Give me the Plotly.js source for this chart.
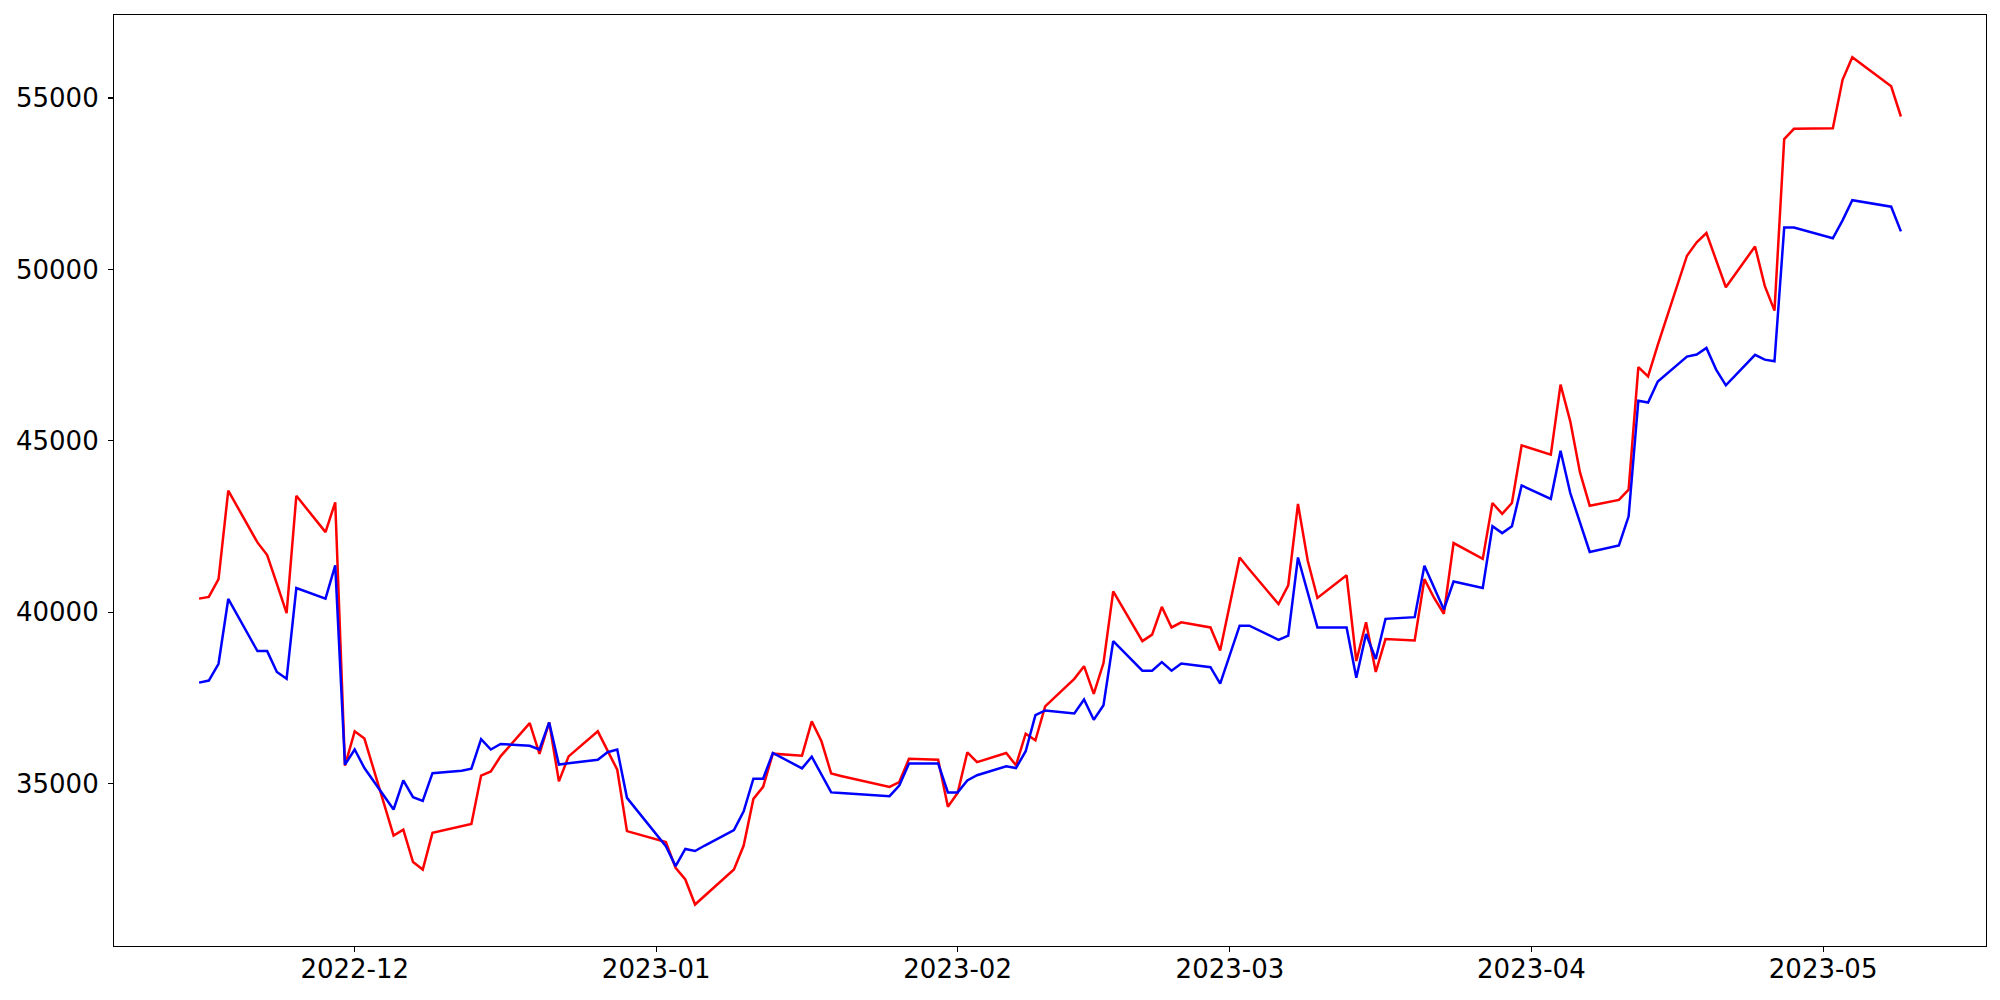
<!DOCTYPE html>
<html>
<head>
<meta charset="utf-8">
<script src="https://cdn.plot.ly/plotly-3.0.1.min.js"></script>
<style>html,body{margin:0;padding:0;background:#fff;}#chart{width:2000px;height:1000px;}</style>
</head>
<body>
<div id="chart"></div>
<script>
const dates = [
"2022-11-15","2022-11-16","2022-11-17","2022-11-18","2022-11-21","2022-11-22","2022-11-23","2022-11-24","2022-11-25","2022-11-28","2022-11-29","2022-11-30",
"2022-12-01","2022-12-02","2022-12-05","2022-12-06","2022-12-07","2022-12-08","2022-12-09","2022-12-12","2022-12-13","2022-12-14","2022-12-15","2022-12-16","2022-12-19","2022-12-20","2022-12-21","2022-12-22","2022-12-23","2022-12-26","2022-12-27","2022-12-28","2022-12-29",
"2023-01-02","2023-01-03","2023-01-04","2023-01-05","2023-01-06","2023-01-09","2023-01-10","2023-01-11","2023-01-12","2023-01-13","2023-01-16","2023-01-17","2023-01-18","2023-01-19","2023-01-20","2023-01-25","2023-01-26","2023-01-27","2023-01-30","2023-01-31",
"2023-02-01","2023-02-02","2023-02-03","2023-02-06","2023-02-07","2023-02-08","2023-02-09","2023-02-10","2023-02-13","2023-02-14","2023-02-15","2023-02-16","2023-02-17","2023-02-20","2023-02-21","2023-02-22","2023-02-23","2023-02-24","2023-02-27","2023-02-28",
"2023-03-02","2023-03-03","2023-03-06","2023-03-07","2023-03-08","2023-03-09","2023-03-10","2023-03-13","2023-03-14","2023-03-15","2023-03-16","2023-03-17","2023-03-20","2023-03-21","2023-03-22","2023-03-23","2023-03-24","2023-03-27","2023-03-28","2023-03-29","2023-03-30","2023-03-31",
"2023-04-03","2023-04-04","2023-04-05","2023-04-06","2023-04-07","2023-04-10","2023-04-11","2023-04-12","2023-04-13","2023-04-14","2023-04-17","2023-04-18","2023-04-19","2023-04-20","2023-04-21","2023-04-24","2023-04-25","2023-04-26","2023-04-27","2023-04-28",
"2023-05-02","2023-05-03","2023-05-04","2023-05-08","2023-05-09"
];

const redValues = [
40400,40450,40970,43550,42040,41670,40830,39980,43400,42340,43210,35530,
36530,36320,33490,33660,32720,32500,33570,33770,33830,35240,35360,35800,36770,35870,36790,35070,35800,36530,35960,35410,33620,
33300,32550,32210,31480,31740,32500,33200,34560,34910,35880,35820,36820,36240,35300,35230,34910,35050,35730,35700,34330,
34730,35920,35630,35900,35540,36460,36270,37260,38060,38430,37620,38520,40610,39160,39350,40160,39560,39710,39560,38890,
41600,41250,40240,40790,43160,41510,40420,41080,38580,39710,38260,39220,39180,40970,40420,39960,42020,41560,43190,42870,43190,44870,
44600,46640,45570,44080,43110,43280,43580,47150,46880,47800,50400,50790,51060,50270,49480,50670,49520,48800,53800,54100,
54120,55530,56190,55340,54460
];

const blueValues = [
37950,38010,38500,40390,38870,38870,38260,38060,40710,40400,41370,35560,
36000,35460,34250,35100,34610,34500,35310,35380,35440,36300,36000,36160,36110,36000,36790,35560,35600,35700,35920,36000,34590,
33180,32600,33100,33040,33200,33650,34200,35150,35150,35900,35450,35790,35280,34750,34730,34640,34950,35590,35590,34750,
34750,35100,35250,35510,35460,35950,37000,37140,37050,37460,36870,37290,39160,38300,38300,38550,38300,38510,38400,37920,
39610,39610,39200,39320,41600,40600,39560,39560,38090,39370,38640,39810,39860,41360,40720,40080,40900,40710,42510,42310,42510,43700,
43310,44710,43480,42620,41760,41950,42800,46170,46120,46730,47460,47520,47710,47080,46620,47510,47370,47320,51220,51220,
50910,51430,52020,51830,51110
];

const xTickVals = ["2022-12-01","2023-01-01","2023-02-01","2023-03-01","2023-04-01","2023-05-01"];
const xTickText = ["2022-12","2023-01","2023-02","2023-03","2023-04","2023-05"];
const yTickVals = [35000,40000,45000,50000,55000];
const yTickText = ["35000","40000","45000","50000","55000"];

const traces = [
  {x: dates, y: redValues, type: 'scatter', mode: 'lines', line: {color: '#ff0000', width: 2.5}, name: 'red'},
  {x: dates, y: blueValues, type: 'scatter', mode: 'lines', line: {color: '#0000ff', width: 2.5}, name: 'blue'}
];

const axisCommon = {
  showgrid: false, zeroline: false, showline: true, mirror: true,
  linecolor: '#000', linewidth: 1.1, ticks: 'outside', ticklen: 5, tickwidth: 1.1, tickcolor: '#000',
  tickfont: {family: 'DejaVu Sans', size: 26, color: '#000'}
};

const layout = {
  width: 2000, height: 1000,
  margin: {l: 114, r: 14, t: 15, b: 54, pad: 0},
  paper_bgcolor: '#fff', plot_bgcolor: '#fff',
  showlegend: false,
  font: {family: 'DejaVu Sans', size: 26, color: '#000'},
  xaxis: Object.assign({}, axisCommon, {
    type: 'date', range: ['2022-11-06 06:00', '2023-05-17 18:00'],
    tickmode: 'array', tickvals: xTickVals, ticktext: xTickText,
    ticklabelstandoff: -5
  }),
  yaxis: Object.assign({}, axisCommon, {
    range: [30270, 57420],
    tickmode: 'array', tickvals: yTickVals, ticktext: yTickText,
    ticklabelstandoff: 4
  })
};

Plotly.newPlot('chart', traces, layout, {displayModeBar: false, staticPlot: true});
</script>
</body>
</html>
